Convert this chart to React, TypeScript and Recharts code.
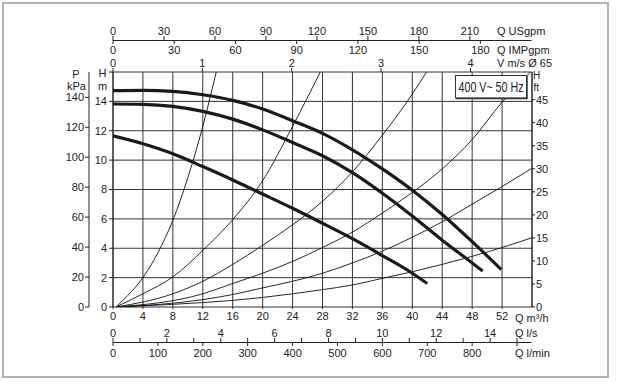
import { ComposedChart, Line, XAxis, YAxis, CartesianGrid } from 'recharts'

// unit conversions from m³/h
const USGPM = 0.22712
const IMPGPM = 0.27277
const VEL_65 = 11.945 // m³/h per 1 m/s in Ø65 pipe
const LS = 3.6
const LMIN = 0.06
const KPA_PER_M = 9.80665
const FT_TOP = 51
const Q_MAX = 56
const H_MAX = 16

const m3hTicks = [0, 4, 8, 12, 16, 20, 24, 28, 32, 36, 40, 44, 48, 52]
const hTicks = [0, 2, 4, 6, 8, 10, 12, 14, 16]
const hLabels = [0, 2, 4, 6, 8, 10, 12, 14]
const kpaTicks = [0, 20, 40, 60, 80, 100, 120, 140]
const ftTicks = [0, 5, 10, 15, 20, 25, 30, 35, 40, 45]
const usTicks = [0, 30, 60, 90, 120, 150, 180, 210]
const impTicks = [0, 30, 60, 90, 120, 150, 180]
const velTicks = [0, 1, 2, 3, 4]
const lsTicks = [0, 1, 2, 3, 4, 5, 6, 7, 8, 9, 10, 11, 12, 13, 14, 15]
const lsLabels = [0, 2, 4, 6, 8, 10, 12, 14]
const lminTicks = [0, 100, 200, 300, 400, 500, 600, 700, 800, 900]
const lminLabels = [0, 100, 200, 300, 400, 500, 600, 700, 800]

// pump curves, Q m³/h -> H m
const pumpHigh = [
  { q: 0, h: 14.73 }, { q: 4, h: 14.75 }, { q: 8, h: 14.68 }, { q: 12, h: 14.45 },
  { q: 16, h: 14.07 }, { q: 20, h: 13.48 }, { q: 24, h: 12.68 }, { q: 28, h: 11.82 },
  { q: 32, h: 10.7 }, { q: 36, h: 9.4 }, { q: 40, h: 7.95 }, { q: 44, h: 6.3 },
  { q: 48, h: 4.45 }, { q: 51.9, h: 2.55 },
]
const pumpMid = [
  { q: 0, h: 13.82 }, { q: 4, h: 13.8 }, { q: 8, h: 13.66 }, { q: 12, h: 13.32 },
  { q: 16, h: 12.79 }, { q: 20, h: 12.06 }, { q: 24, h: 11.2 }, { q: 28, h: 10.3 },
  { q: 32, h: 9.15 }, { q: 36, h: 7.75 }, { q: 40, h: 6.2 }, { q: 44, h: 4.55 },
  { q: 48, h: 3.0 }, { q: 49.4, h: 2.45 },
]
const pumpLow = [
  { q: 0, h: 11.65 }, { q: 4, h: 11.11 }, { q: 8, h: 10.43 }, { q: 12, h: 9.56 },
  { q: 16, h: 8.65 }, { q: 20, h: 7.69 }, { q: 24, h: 6.72 }, { q: 28, h: 5.7 },
  { q: 32, h: 4.65 }, { q: 36, h: 3.5 }, { q: 40, h: 2.3 }, { q: 42, h: 1.6 },
]

// system curves
const sys1 = [
  { q: 0.4, h: 0 }, { q: 2, h: 0.8 }, { q: 4, h: 2.0 }, { q: 6, h: 3.7 },
  { q: 8, h: 5.9 }, { q: 10, h: 8.8 }, { q: 12, h: 12.3 }, { q: 13.8, h: 16 },
]
const sys2 = [
  { q: 0.4, h: 0 }, { q: 4, h: 0.9 }, { q: 8, h: 2.05 }, { q: 12, h: 3.85 },
  { q: 16, h: 5.95 }, { q: 20, h: 8.6 }, { q: 24, h: 12.3 }, { q: 27.7, h: 16 },
]
const sys3 = [
  { q: 0.4, h: 0 }, { q: 8, h: 0.9 }, { q: 12, h: 1.75 }, { q: 16, h: 2.9 },
  { q: 20, h: 4.2 }, { q: 24, h: 5.6 }, { q: 28, h: 7.2 }, { q: 32, h: 9.2 },
  { q: 36, h: 11.7 }, { q: 40, h: 14.5 }, { q: 41.9, h: 16 },
]
const sys4 = [
  { q: 0.4, h: 0 }, { q: 12, h: 0.9 }, { q: 16, h: 1.6 }, { q: 20, h: 2.3 },
  { q: 24, h: 3.1 }, { q: 28, h: 4.05 }, { q: 32, h: 5.1 }, { q: 36, h: 6.4 },
  { q: 40, h: 7.8 }, { q: 44, h: 9.4 }, { q: 48, h: 11.4 }, { q: 52, h: 13.95 },
  { q: 55.8, h: 16 },
]
const sys5 = [
  { q: 0.4, h: 0 }, { q: 12, h: 0.5 }, { q: 16, h: 0.85 }, { q: 20, h: 1.3 },
  { q: 24, h: 1.75 }, { q: 28, h: 2.3 }, { q: 32, h: 3.0 }, { q: 36, h: 3.8 },
  { q: 40, h: 4.75 }, { q: 44, h: 5.8 }, { q: 48, h: 7.0 }, { q: 52, h: 8.2 },
  { q: 56, h: 9.45 },
]
const sys6 = [
  { q: 0.4, h: 0 }, { q: 12, h: 0.3 }, { q: 16, h: 0.45 }, { q: 20, h: 0.65 },
  { q: 24, h: 0.9 }, { q: 28, h: 1.18 }, { q: 32, h: 1.5 }, { q: 36, h: 1.95 },
  { q: 40, h: 2.4 }, { q: 44, h: 2.9 }, { q: 48, h: 3.45 }, { q: 52, h: 4.05 },
  { q: 56, h: 4.72 },
]

const pumpCurves = [pumpHigh, pumpMid, pumpLow]
const systemCurves = [sys1, sys2, sys3, sys4, sys5, sys6]

// flow range expressed in every unit, so each secondary x axis has data
const unitRows = [0, Q_MAX].map(q => ({
  q, v: q / VEL_65, us: q / USGPM, imp: q / IMPGPM, ls: q / LS, lmin: q / LMIN,
}))

const INK = '#222'
const FONT = '"Liberation Sans", Arial, sans-serif'
const tickStyle = { fontSize: 11, fill: INK, fontFamily: FONT }

// page-fixed rows for the stacked flow scales (x comes from each axis' scale)
const makeTick = (lineY: number, len: number, labelY: number, labels?: number[]) =>
  function FlowTick({ x, payload }: any) {
    const show = !labels || labels.includes(payload.value)
    return (
      <g>
        <line x1={x} x2={x} y1={lineY} y2={lineY + len} stroke={INK} />
        {show && (
          <text x={x} y={labelY} textAnchor="middle" dominantBaseline="central" {...tickStyle}>
            {payload.value}
          </text>
        )}
      </g>
    )
  }

const VelTick = makeTick(72, -4, 63)
const UsTick = makeTick(40, -4, 31)
const ImpTick = makeTick(40, 4, 50)
const M3hTick = makeTick(307, 2, 315.5)
const LsTick = makeTick(342, -4, 333, lsLabels)
const LminTick = makeTick(342, 4, 353, lminLabels)

const hFormat = (v: number) => (hLabels.includes(v) ? String(v) : '')

function Overlay() {
  const t = (x: number, y: number, s: string, anchor: 'start' | 'middle' = 'start', size = 11) => (
    <text x={x} y={y} textAnchor={anchor} dominantBaseline="central" {...tickStyle} fontSize={size}>{s}</text>
  )
  return (
    <svg width={618} height={382} style={{ position: 'absolute', left: 0, top: 0, pointerEvents: 'none' }}>
      <line x1={113} x2={531.5} y1={40.5} y2={40.5} stroke={INK} />
      <line x1={113} x2={531.5} y1={342.5} y2={342.5} stroke={INK} />
      {t(76, 73.5, 'P', 'middle')}
      {t(76.5, 86, 'kPa', 'middle')}
      {t(102.5, 72.5, 'H', 'middle')}
      {t(102.5, 85.5, 'm', 'middle')}
      {t(533, 75, 'H', 'start', 10)}
      {t(533.5, 87.5, 'ft', 'start', 10)}
      {t(497, 31, 'Q USgpm')}
      {t(497, 49.7, 'Q IMPgpm')}
      {t(497, 62.7, 'V m/s Ø 65')}
      {t(515, 318, 'Q m³/h')}
      {t(515, 333, 'Q l/s')}
      {t(515, 353, 'Q l/min')}
      <rect x={455.5} y={75.5} width={71} height={22.5} fill="#fff" stroke="#333" strokeWidth={1} />
      <line x1={527} x2={527} y1={76} y2={99} stroke="#333" strokeWidth={1.5} />
      <line x1={456} x2={527.5} y1={98.5} y2={98.5} stroke="#333" strokeWidth={1.5} />
      <text x={491} y={87} textAnchor="middle" dominantBaseline="central" fontSize={14} fill={INK}
        fontFamily={FONT} textLength={65} lengthAdjust="spacingAndGlyphs">400 V~ 50 Hz</text>
    </svg>
  )
}

const domV = [0, Q_MAX / VEL_65]
const domUs = [0, Q_MAX / USGPM]
const domImp = [0, Q_MAX / IMPGPM]
const domQ = [0, Q_MAX]
const domLs = [0, Q_MAX / LS]
const domLmin = [0, Q_MAX / LMIN]
const domH = [0, H_MAX]
const domP = [0, H_MAX * KPA_PER_M]
const domFt = [0, FT_TOP]

export default function App() {
  return (
    <div style={{ position: 'absolute', left: 0, top: 0, width: 618, height: 382, background: '#fff' }}>
      <div style={{ position: 'absolute', left: 2, top: 2, width: 603, height: 372, border: '2px solid #b4b4b4' }} />
      <ComposedChart
        width={618}
        height={382}
        data={unitRows}
        margin={{ top: 10, right: 46, bottom: 10, left: 49 }}
        style={{ position: 'absolute', left: 0, top: 0, fontFamily: FONT }}
      >
        <CartesianGrid xAxisId="q" yAxisId="h" stroke="#333" />
        <XAxis xAxisId="v" dataKey="v" orientation="top" type="number" domain={domV} ticks={velTicks}
          height={30} axisLine={false} tickLine={false} tick={VelTick} allowDataOverflow interval={0} />
        <XAxis xAxisId="imp" dataKey="imp" orientation="top" type="number" domain={domImp} ticks={impTicks}
          height={2} axisLine={false} tickLine={false} tick={ImpTick} allowDataOverflow interval={0} />
        <XAxis xAxisId="us" dataKey="us" orientation="top" type="number" domain={domUs} ticks={usTicks}
          height={30} axisLine={false} tickLine={false} tick={UsTick} allowDataOverflow interval={0} />
        <XAxis xAxisId="q" dataKey="q" type="number" domain={domQ} ticks={m3hTicks}
          height={33} axisLine={false} tickLine={false} tick={M3hTick} allowDataOverflow interval={0} />
        <XAxis xAxisId="ls" dataKey="ls" type="number" domain={domLs} ticks={lsTicks}
          height={2} axisLine={false} tickLine={false} tick={LsTick} allowDataOverflow interval={0} />
        <XAxis xAxisId="lmin" dataKey="lmin" type="number" domain={domLmin} ticks={lminTicks}
          height={30} axisLine={false} tickLine={false} tick={LminTick} allowDataOverflow interval={0} />
        <YAxis yAxisId="h" type="number" domain={domH} ticks={hTicks} width={24} tickFormatter={hFormat}
          stroke={INK} tickSize={4} tickMargin={2} tick={tickStyle} allowDataOverflow interval={0} />
        <YAxis yAxisId="p" type="number" domain={domP} ticks={kpaTicks} width={40}
          stroke={INK} tickSize={4} tickMargin={1} tick={tickStyle} allowDataOverflow interval={0} />
        <YAxis yAxisId="ft" orientation="right" type="number" domain={domFt} ticks={ftTicks} width={40}
          stroke={INK} tickSize={3} tickMargin={1} tick={tickStyle} allowDataOverflow interval={0} />
        {systemCurves.map((d, i) => (
          <Line key={`s${i}`} xAxisId="q" yAxisId="h" data={d} dataKey="h" type="monotone"
            stroke="#111" strokeWidth={0.9} dot={false} isAnimationActive={false} />
        ))}
        {pumpCurves.map((d, i) => (
          <Line key={`p${i}`} xAxisId="q" yAxisId="h" data={d} dataKey="h" type="monotone"
            stroke="#1a1a1a" strokeWidth={3.2} dot={false} isAnimationActive={false} />
        ))}
      </ComposedChart>
      <Overlay />
    </div>
  )
}
